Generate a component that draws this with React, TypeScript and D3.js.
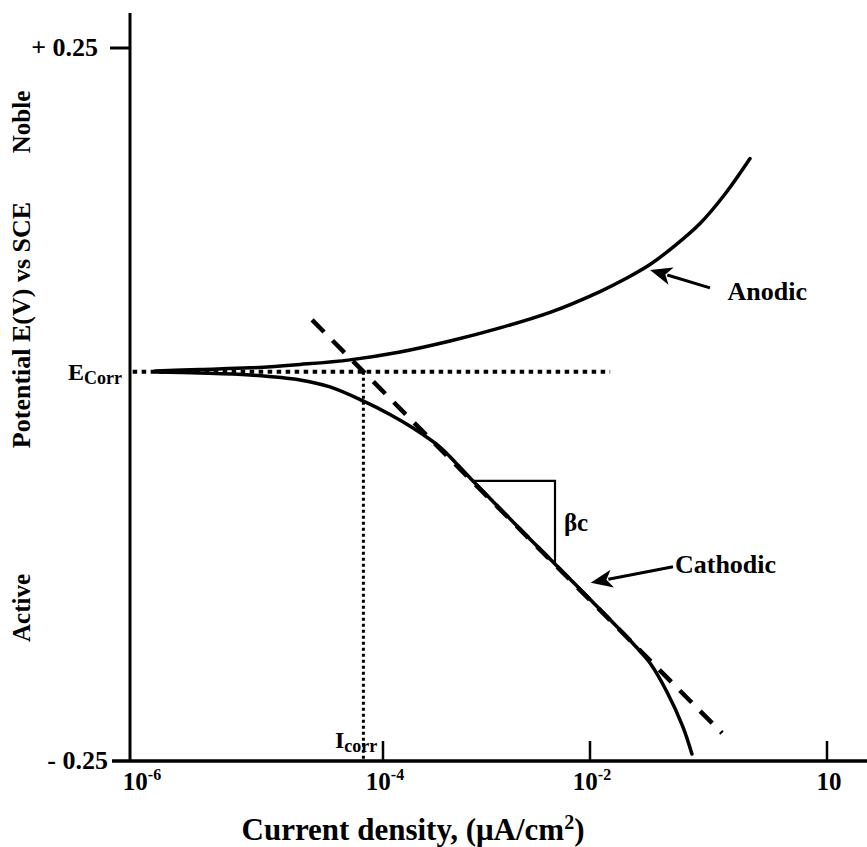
import React from 'react';
import * as d3 from 'd3';

// ---- data (current density in µA/cm², potential in V vs SCE) ----
const xTickValues = [1e-6, 1e-4, 1e-2, 10];
const xTickBase = ['10', '10', '10', '10'];
const xTickExp = ['-6', '-4', '-2', ''];
const yTickValues = [0.25, -0.25];
const yTickLabels = ['+ 0.25', '- 0.25'];

const anodicI = [1.58e-6, 3.58e-6, 8.88e-6, 2.21e-5, 5.48e-5, 1.46e-4, 4.44e-4, 1.35e-3, 4.11e-3, 0.0134, 0.0277, 0.0575, 0.119, 0.247, 0.512, 1.06];
const anodicE = [0.0235, 0.0246, 0.0257, 0.0281, 0.0313, 0.0368, 0.0445, 0.0537, 0.0646, 0.0792, 0.088, 0.0982, 0.1114, 0.1269, 0.1476, 0.1725];

const cathodicI = [1.58e-6, 3.58e-6, 8.88e-6, 2.21e-5, 3.81e-5, 6.95e-5, 1.168e-4, 1.95e-4, 3.55e-4, 4.96e-4, 7.24e-4, 2.107e-3, 4.39e-3, 0.0134, 0.035, 0.0575, 0.0943, 0.1504, 0.195];
const cathodicE = [0.0228, 0.0221, 0.0207, 0.0172, 0.0123, 0.0025, -0.007, -0.0165, -0.0298, -0.0403, -0.0529, -0.0873, -0.1104, -0.1438, -0.1676, -0.1813, -0.2016, -0.2262, -0.2451];

const tafelI = [2.75e-5, 0.469];
const tafelE = [0.0593, -0.2304];

const Ecorr = 0.023;
const Icorr = 7e-5;
const ecorrLineI = [1.05e-6, 0.018];

const slopeI = [7.24e-4, 4.59e-3];
const slopeE = [-0.0535, -0.1119];

const anodicArrowI = [0.33, 0.0575];
const anodicArrowE = [0.0818, 0.0944];
const cathodicArrowI = [0.1125, 0.0102];
const cathodicArrowE = [-0.1138, -0.125];

const anodicLabel = { i: 0.55, e: 0.0733, text: 'Anodic' };
const cathodicLabel = { i: 0.119, e: -0.118, text: 'Cathodic' };
const betaLabel = { i: 5.6e-3, e: -0.089, text: 'βc' };

const W = 867;
const H = 847;
const FONT = '"Liberation Serif", "Times New Roman", serif';

export default function App() {
  const x = d3.scaleLog().domain([1e-6, 1e-4, 1e-2, 10]).range([130, 383, 590, 827]);
  const y = d3.scaleLinear().domain([-0.25, 0.25]).range([761, 48]);

  const line = d3
    .line<[number, number]>()
    .x((d) => x(d[0]))
    .y((d) => y(d[1]))
    .curve(d3.curveCatmullRom.alpha(0.5));
  const straight = d3
    .line<[number, number]>()
    .x((d) => x(d[0]))
    .y((d) => y(d[1]));

  const anodic = line(anodicI.map((v, i) => [v, anodicE[i]]) as [number, number][]) || '';
  const cathodic = line(cathodicI.map((v, i) => [v, cathodicE[i]]) as [number, number][]) || '';
  const tafel = straight(tafelI.map((v, i) => [v, tafelE[i]]) as [number, number][]) || '';

  const x0 = x(1e-6);
  const yBottom = y(-0.25);
  const yTop = 13;

  const arrow = (xs: number[], es: number[], key: string) => {
    const x1 = x(xs[0]), y1 = y(es[0]);
    const x2 = x(xs[1]), y2 = y(es[1]);
    const ang = Math.atan2(y2 - y1, x2 - x1);
    const len = 22, wid = 9;
    const bx = x2 - len * Math.cos(ang), by = y2 - len * Math.sin(ang);
    const px = -Math.sin(ang) * wid, py = Math.cos(ang) * wid;
    return (
      <g key={key}>
        <line x1={x1} y1={y1} x2={bx + 4 * Math.cos(ang)} y2={by + 4 * Math.sin(ang)} stroke="#000" strokeWidth={3} />
        <path d={`M${x2},${y2}L${bx + px},${by + py}L${bx + 6 * Math.cos(ang)},${by + 6 * Math.sin(ang)}L${bx - px},${by - py}Z`} fill="#000" />
      </g>
    );
  };

  return (
    <svg width={W} height={H} style={{ position: 'absolute', left: 0, top: 0, background: '#fff' }} fontFamily={FONT}>
      <rect width={W} height={H} fill="#fff" />

      {/* axes */}
      <line x1={x0} y1={yTop} x2={x0} y2={yBottom + 1} stroke="#000" strokeWidth={3} />
      <line x1={112} y1={yBottom} x2={W} y2={yBottom} stroke="#000" strokeWidth={3.5} />
      <line x1={110} y1={y(0.25)} x2={x0} y2={y(0.25)} stroke="#000" strokeWidth={3} />

      {xTickValues.slice(1).map((v) => (
        <line key={'t' + v} x1={x(v)} y1={yBottom} x2={x(v)} y2={yBottom - 20} stroke="#000" strokeWidth={2.5} />
      ))}
      {xTickValues.map((v, i) => (
        <text key={'l' + v} x={x(v) + (i === 0 ? 12 : 2)} y={790} textAnchor="middle" fontSize={25} fontWeight="bold">
          {xTickBase[i]}
          {xTickExp[i] && (
            <tspan fontSize={16} dy={-10}>
              {xTickExp[i]}
            </tspan>
          )}
        </text>
      ))}
      {yTickValues.map((v, i) => (
        <text key={'y' + v} x={i === 0 ? 98 : 108} y={y(v) + 8} textAnchor="end" fontSize={26} fontWeight="bold">
          {yTickLabels[i]}
        </text>
      ))}

      {/* axis titles */}
      <text x={413} y={840} textAnchor="middle" fontSize={31} fontWeight="bold">
        Current density, (μA/cm
        <tspan fontSize={20} dy={-11}>2</tspan>
        <tspan dy={11}>)</tspan>
      </text>
      <g fontSize={25} fontWeight="bold" textAnchor="middle">
        <text transform={`translate(30,122) rotate(-90)`}>Noble</text>
        <text transform={`translate(30,325) rotate(-90)`} fontSize={26}>Potential  E(V) vs SCE</text>
        <text transform={`translate(30,608) rotate(-90)`}>Active</text>
      </g>

      {/* Ecorr dotted line and label */}
      <line x1={x(ecorrLineI[0])} y1={y(Ecorr)} x2={x(ecorrLineI[1])} y2={y(Ecorr)} stroke="#000" strokeWidth={4} strokeDasharray="4.5,4.5" />
      <text x={68} y={y(Ecorr) + 8} fontSize={24} fontWeight="bold">
        E<tspan fontSize={18} dy={4}>Corr</tspan>
      </text>

      {/* Icorr dotted line and label */}
      <line x1={x(Icorr)} y1={y(Ecorr)} x2={x(Icorr)} y2={yBottom} stroke="#000" strokeWidth={3} strokeDasharray="3,3" />
      <text x={335} y={748} fontSize={24} fontWeight="bold">
        I<tspan fontSize={18} dy={4}>corr</tspan>
      </text>

      {/* Tafel extrapolation */}
      <path d={tafel} fill="none" stroke="#000" strokeWidth={4.5} strokeDasharray="17,12" />

      {/* polarization curves */}
      <path d={anodic} fill="none" stroke="#000" strokeWidth={3.5} strokeLinecap="round" />
      <path d={cathodic} fill="none" stroke="#000" strokeWidth={3.5} strokeLinecap="round" />

      {/* slope triangle */}
      <polyline
        points={`${x(slopeI[0])},${y(slopeE[0])} ${x(slopeI[1])},${y(slopeE[0])} ${x(slopeI[1])},${y(slopeE[1])}`}
        fill="none"
        stroke="#000"
        strokeWidth={2.2}
      />
      <text x={x(betaLabel.i)} y={y(betaLabel.e)} fontSize={25} fontWeight="bold">
        {betaLabel.text}
      </text>

      {/* arrows and labels */}
      {arrow(anodicArrowI, anodicArrowE, 'a')}
      {arrow(cathodicArrowI, cathodicArrowE, 'c')}
      <text x={x(anodicLabel.i)} y={y(anodicLabel.e)} fontSize={26} fontWeight="bold">
        {anodicLabel.text}
      </text>
      <text x={x(cathodicLabel.i)} y={y(cathodicLabel.e)} fontSize={26} fontWeight="bold">
        {cathodicLabel.text}
      </text>
    </svg>
  );
}
